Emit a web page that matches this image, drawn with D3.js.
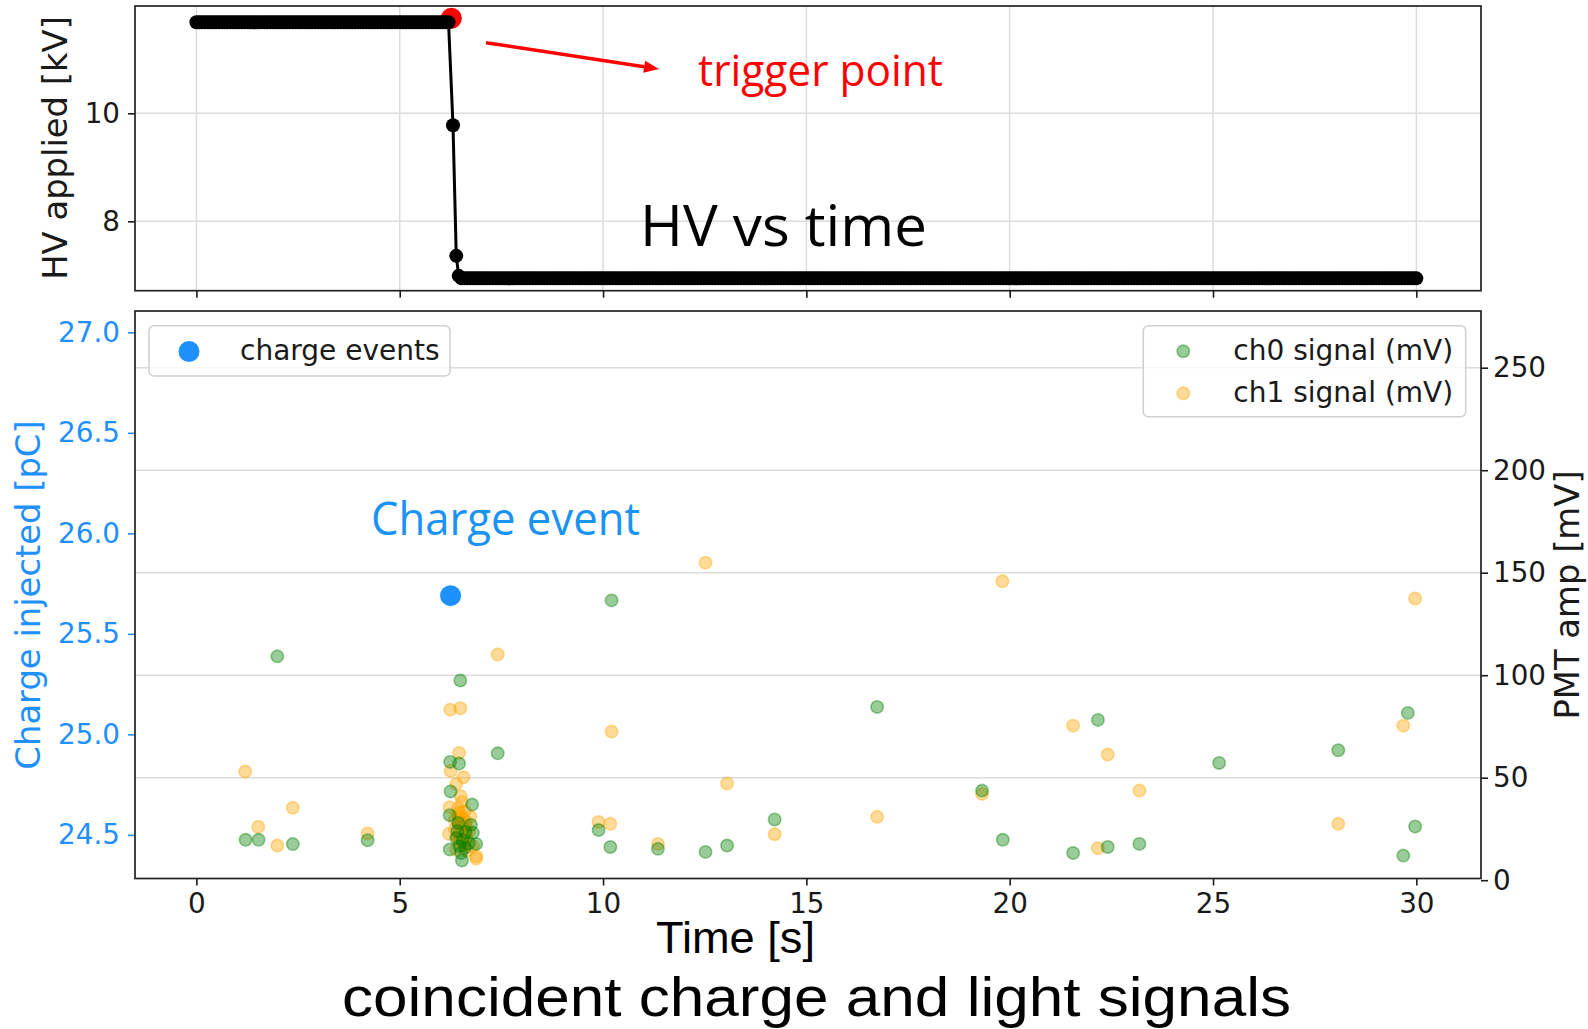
<!DOCTYPE html>
<html>
<head>
<meta charset="utf-8">
<script src="https://cdn.jsdelivr.net/npm/d3@7"></script>
<style>
  body { margin: 0; background: #fff; }
  svg { display: block; }
</style>
</head>
<body>
<svg id="chart" width="1588" height="1029"></svg>
<script>
// ---------------- data ----------------
const timeTicks = [0, 5, 10, 15, 20, 25, 30];
const hvTicks = [8, 10];
const chargeTicks = [24.5, 25.0, 25.5, 26.0, 26.5, 27.0];
const pmtTicks = [0, 50, 100, 150, 200, 250];

// HV supply readings: two steady plateaus (read every hvStep seconds) and the ramp between them
const hvStep = 0.07;
const hvPlateauHigh = { from: 0, to: 6.2, kv: 11.685 };
const hvRampTime = [6.31, 6.39, 6.45];
const hvRampKV = [9.78, 7.36, 6.99];
const hvPlateauLow = { from: 6.52, to: 30, kv: 6.944 };
const triggerTime = 6.27;
const triggerKV = 11.76;

// charge injection events
const chargeTime = [6.25];
const chargePC = [25.69];

// PMT channel 0 amplitudes
const ch0Time = [1.21, 1.53, 1.99, 2.37, 4.21,
  6.23, 6.23, 6.25, 6.24, 6.46, 6.49, 6.44, 6.39, 6.51, 6.53, 6.60, 6.78, 6.80, 6.88,
  6.42, 6.55, 6.62, 6.70, 6.47, 6.75,
  7.41, 9.89, 10.18, 10.21, 11.35, 12.52, 13.05, 14.22, 16.74, 19.32, 19.83,
  21.56, 22.17, 22.41, 23.19, 25.15, 28.08, 29.68, 29.79, 29.97];
const ch0Amp = [19.7, 19.7, 109.2, 17.6, 19.5,
  15.0, 31.7, 43.3, 57.7, 56.9, 97.4, 27.9, 20.6, 13.3, 9.6, 15.8, 36.9, 23.1, 17.7,
  24.0, 19.5, 23.5, 18.0, 16.5, 27.0,
  61.9, 24.5, 16.2, 136.5, 15.3, 13.8, 16.9, 29.6, 84.5, 43.7, 19.7,
  13.3, 78.2, 16.2, 17.7, 57.2, 63.4, 12.0, 81.6, 26.2];

// PMT channel 1 amplitudes
const ch1Time = [1.20, 1.52, 1.99, 2.37, 4.21,
  6.24, 6.49, 6.46, 6.25, 6.57, 6.39, 6.50, 6.53, 6.23, 6.44, 6.60, 6.74, 6.56, 6.48,
  6.36, 6.60, 6.21, 6.51, 6.64, 6.48, 6.80, 6.39, 6.88, 6.88,
  6.45, 6.52, 6.57, 6.42, 6.55, 6.62, 6.47, 6.66, 6.70, 6.35,
  6.50, 6.54, 6.58, 6.46, 6.52, 6.56, 6.49, 6.61, 6.53, 6.44, 6.59, 6.51,
  7.41, 9.89, 10.18, 10.21, 11.35, 12.52, 13.05, 14.22, 16.74, 19.32, 19.82,
  21.56, 22.17, 22.41, 23.19, 28.08, 29.68, 29.97];
const ch1Amp = [53.0, 26.0, 16.9, 35.3, 22.8,
  83.2, 83.9, 62.1, 53.3, 50.2, 47.0, 41.0, 38.2, 35.6, 35.0, 33.7, 30.9, 29.6, 26.3,
  24.7, 24.7, 22.6, 22.3, 20.6, 19.0, 16.6, 15.0, 11.7, 10.6,
  30.5, 27.5, 25.0, 21.0, 17.5, 28.5, 33.0, 14.5, 24.0, 29.5,
  23.5, 26.0, 21.5, 28.0, 31.5, 19.5, 20.5, 26.5, 24.0, 32.0, 17.0, 29.0,
  110.1, 28.4, 27.5, 72.5, 17.7, 154.9, 47.2, 22.4, 30.9, 42.1, 145.8,
  75.4, 15.6, 61.3, 43.7, 27.5, 75.4, 137.4];

// ---------------- layout ----------------
const W = 1588, H = 1029;
const plotL = 135, plotR = 1481;
const topT = 6, topB = 290.7;
const botT = 311, botB = 878.5;

const FONT = "'DejaVu Sans', sans-serif";
const TICK_FS = 27.8;
const LEGEND_FS = 28;
const LABEL_FS = 33.8;
const BLUE = "#1e90ff";
const INK = "#1a1a1a";
const GRID = "#dcdcdc";

const svg = d3.select("#chart");
svg.append("rect").attr("width", W).attr("height", H).attr("fill", "#fff");

// scales
const x = d3.scaleLinear().domain([-1.51, 31.59]).range([plotL, plotR]);
const yHV = d3.scaleLinear().domain([6.715, 11.987]).range([topB, topT]);
const yQ = d3.scaleLinear().domain([24.283, 27.106]).range([botB, botT]);
const yPMT = d3.scaleLinear().domain([0.83, 277.66]).range([botB, botT]);

// assemble HV series
function plateau(p) {
  const n = Math.round((p.to - p.from) / hvStep);
  return d3.range(n + 1).map(i => ({ t: p.from + (p.to - p.from) * i / n, kv: p.kv }));
}
const hvSeries = [
  ...plateau(hvPlateauHigh),
  ...hvRampTime.map((t, i) => ({ t, kv: hvRampKV[i] })),
  ...plateau(hvPlateauLow)
];

function styleAxis(g, color) {
  g.select(".domain").remove();
  g.selectAll(".tick line").attr("stroke", color).attr("stroke-width", 1.6);
  g.selectAll(".tick text")
    .attr("fill", color)
    .style("font-family", FONT)
    .style("font-size", TICK_FS + "px");
}

// ================= upper panel: HV vs time =================
const hvPanel = svg.append("g");

// grid
hvPanel.append("g").selectAll("line").data(timeTicks).join("line")
  .attr("x1", d => x(d)).attr("x2", d => x(d))
  .attr("y1", topT).attr("y2", topB)
  .attr("stroke", GRID).attr("stroke-width", 1.5);
hvPanel.append("g").selectAll("line").data(hvTicks).join("line")
  .attr("x1", plotL).attr("x2", plotR)
  .attr("y1", d => yHV(d)).attr("y2", d => yHV(d))
  .attr("stroke", GRID).attr("stroke-width", 1.5);

// trigger point (drawn beneath the HV trace)
hvPanel.append("circle")
  .attr("cx", x(triggerTime)).attr("cy", yHV(triggerKV))
  .attr("r", 10.5).attr("fill", "#ff0000");

// HV trace
hvPanel.append("path")
  .datum(hvSeries)
  .attr("fill", "none").attr("stroke", "#000").attr("stroke-width", 3)
  .attr("d", d3.line().x(d => x(d.t)).y(d => yHV(d.kv)));
hvPanel.append("g").selectAll("circle").data(hvSeries).join("circle")
  .attr("cx", d => x(d.t)).attr("cy", d => yHV(d.kv))
  .attr("r", 7).attr("fill", "#000");

// axes
const hvX = hvPanel.append("g").attr("transform", `translate(0,${topB})`)
  .call(d3.axisBottom(x).tickValues(timeTicks).tickSize(7).tickFormat(""));
styleAxis(hvX, INK);
const hvY = hvPanel.append("g").attr("transform", `translate(${plotL},0)`)
  .call(d3.axisLeft(yHV).tickValues(hvTicks).tickSize(7).tickPadding(8).tickFormat(d3.format("d")));
styleAxis(hvY, INK);

hvPanel.append("rect")
  .attr("x", plotL).attr("y", topT)
  .attr("width", plotR - plotL).attr("height", topB - topT)
  .attr("fill", "none").attr("stroke", "#222").attr("stroke-width", 1.7);

hvPanel.append("text")
  .attr("transform", "translate(67,148) rotate(-90)")
  .attr("text-anchor", "middle")
  .style("font-family", FONT).style("font-size", LABEL_FS + "px")
  .attr("fill", INK)
  .text("HV applied [kV]");

// ================= lower panel: charge and light =================
const sigPanel = svg.append("g");

// horizontal grid from the PMT axis
sigPanel.append("g").selectAll("line").data(pmtTicks.filter(d => d > 0)).join("line")
  .attr("x1", plotL).attr("x2", plotR)
  .attr("y1", d => yPMT(d)).attr("y2", d => yPMT(d))
  .attr("stroke", GRID).attr("stroke-width", 1.5);

// charge events
sigPanel.append("g").selectAll("circle").data(chargeTime).join("circle")
  .attr("cx", d => x(d)).attr("cy", (d, i) => yQ(chargePC[i]))
  .attr("r", 10.5).attr("fill", BLUE);

// PMT channels (ch1 underneath, ch0 above)
function scatter(times, amps, color) {
  sigPanel.append("g").selectAll("circle").data(times).join("circle")
    .attr("cx", d => x(d)).attr("cy", (d, i) => yPMT(amps[i]))
    .attr("r", 6.2)
    .attr("fill", color).attr("fill-opacity", 0.4)
    .attr("stroke", color).attr("stroke-opacity", 0.4).attr("stroke-width", 1.6);
}
scatter(ch1Time, ch1Amp, "#ffa500");
scatter(ch0Time, ch0Amp, "#008000");

// axes
const sigX = sigPanel.append("g").attr("transform", `translate(0,${botB})`)
  .call(d3.axisBottom(x).tickValues(timeTicks).tickSize(7).tickPadding(8).tickFormat(d3.format("d")));
styleAxis(sigX, INK);

const sigYL = sigPanel.append("g").attr("transform", `translate(${plotL},0)`)
  .call(d3.axisLeft(yQ).tickValues(chargeTicks).tickSize(7).tickPadding(8).tickFormat(d3.format(".1f")));
styleAxis(sigYL, BLUE);

const sigYR = sigPanel.append("g").attr("transform", `translate(${plotR},0)`)
  .call(d3.axisRight(yPMT).tickValues(pmtTicks).tickSize(7).tickPadding(5).tickFormat(d3.format("d")));
styleAxis(sigYR, INK);

sigPanel.append("rect")
  .attr("x", plotL).attr("y", botT)
  .attr("width", plotR - plotL).attr("height", botB - botT)
  .attr("fill", "none").attr("stroke", "#222").attr("stroke-width", 1.7);

sigPanel.append("text")
  .attr("transform", "translate(40,595) rotate(-90)")
  .attr("text-anchor", "middle")
  .style("font-family", FONT).style("font-size", LABEL_FS + "px")
  .attr("fill", BLUE)
  .text("Charge injected [pC]");

sigPanel.append("text")
  .attr("transform", "translate(1579,595) rotate(-90)")
  .attr("text-anchor", "middle")
  .style("font-family", FONT).style("font-size", LABEL_FS + "px")
  .attr("fill", INK)
  .text("PMT amp [mV]");

// legends
function legendBox(g, x0, y0, w, h) {
  g.append("rect").attr("x", x0).attr("y", y0).attr("width", w).attr("height", h)
    .attr("rx", 5).attr("fill", "#fff").attr("fill-opacity", 0.8)
    .attr("stroke", "#cfcfcf").attr("stroke-width", 1.5);
}
const legL = sigPanel.append("g");
legendBox(legL, 149, 325.7, 301, 50.3);
legL.append("circle").attr("cx", 189).attr("cy", 351.5).attr("r", 10.5).attr("fill", BLUE);
legL.append("text").attr("x", 240).attr("y", 360)
  .style("font-family", FONT).style("font-size", LEGEND_FS + "px").attr("fill", INK)
  .text("charge events");

const legR = sigPanel.append("g");
legendBox(legR, 1143.3, 325.7, 322.4, 91);
const legItems = [
  { label: "ch0 signal (mV)", color: "#008000", cy: 351.3, base: 360 },
  { label: "ch1 signal (mV)", color: "#ffa500", cy: 393.3, base: 402 }
];
legItems.forEach(it => {
  legR.append("circle").attr("cx", 1183.3).attr("cy", it.cy).attr("r", 6.2)
    .attr("fill", it.color).attr("fill-opacity", 0.4)
    .attr("stroke", it.color).attr("stroke-opacity", 0.4).attr("stroke-width", 1.6);
  legR.append("text").attr("x", 1233.3).attr("y", it.base)
    .style("font-family", FONT).style("font-size", LEGEND_FS + "px").attr("fill", INK)
    .text(it.label);
});

// ================= annotations =================
const ANNO = "'Open Sans', 'Noto Sans', sans-serif";
const NARROW = "'Liberation Sans Narrow', 'Liberation Sans', sans-serif";

// arrow pointing at the trigger reading
const ax0 = 486, ay0 = 42.7, ax1 = 659, ay1 = 69;
const ang = Math.atan2(ay1 - ay0, ax1 - ax0);
const headL = 15, headW = 6;
const bx = ax1 - headL * Math.cos(ang), by = ay1 - headL * Math.sin(ang);
svg.append("line")
  .attr("x1", ax0).attr("y1", ay0).attr("x2", bx).attr("y2", by)
  .attr("stroke", "#ff0000").attr("stroke-width", 3.5);
svg.append("polygon")
  .attr("points", [
    [ax1, ay1],
    [bx + headW * Math.sin(ang), by - headW * Math.cos(ang)],
    [bx - headW * Math.sin(ang), by + headW * Math.cos(ang)]
  ].map(p => p.join(",")).join(" "))
  .attr("fill", "#ff0000");

svg.append("text").attr("x", 698).attr("y", 86)
  .attr("textLength", 245).attr("lengthAdjust", "spacingAndGlyphs")
  .style("font-family", ANNO).style("font-size", "43px").attr("fill", "#ff0000")
  .text("trigger point");

svg.append("text").attr("x", 640).attr("y", 246)
  .attr("textLength", 287).attr("lengthAdjust", "spacingAndGlyphs")
  .style("font-family", ANNO).style("font-size", "57px").attr("fill", "#000")
  .text("HV vs time");

svg.append("text").attr("x", 371).attr("y", 535)
  .attr("textLength", 269).attr("lengthAdjust", "spacingAndGlyphs")
  .style("font-family", ANNO).style("font-size", "45px").attr("fill", "#1a93f7")
  .text("Charge event");

svg.append("text").attr("x", 656).attr("y", 953)
  .attr("textLength", 159).attr("lengthAdjust", "spacingAndGlyphs")
  .style("font-family", NARROW).style("font-size", "45px").attr("fill", "#000")
  .text("Time [s]");

svg.append("text").attr("x", 342).attr("y", 1016)
  .attr("textLength", 949).attr("lengthAdjust", "spacingAndGlyphs")
  .style("font-family", NARROW).style("font-size", "56px").attr("fill", "#000")
  .text("coincident charge and light signals");
</script>
</body>
</html>
